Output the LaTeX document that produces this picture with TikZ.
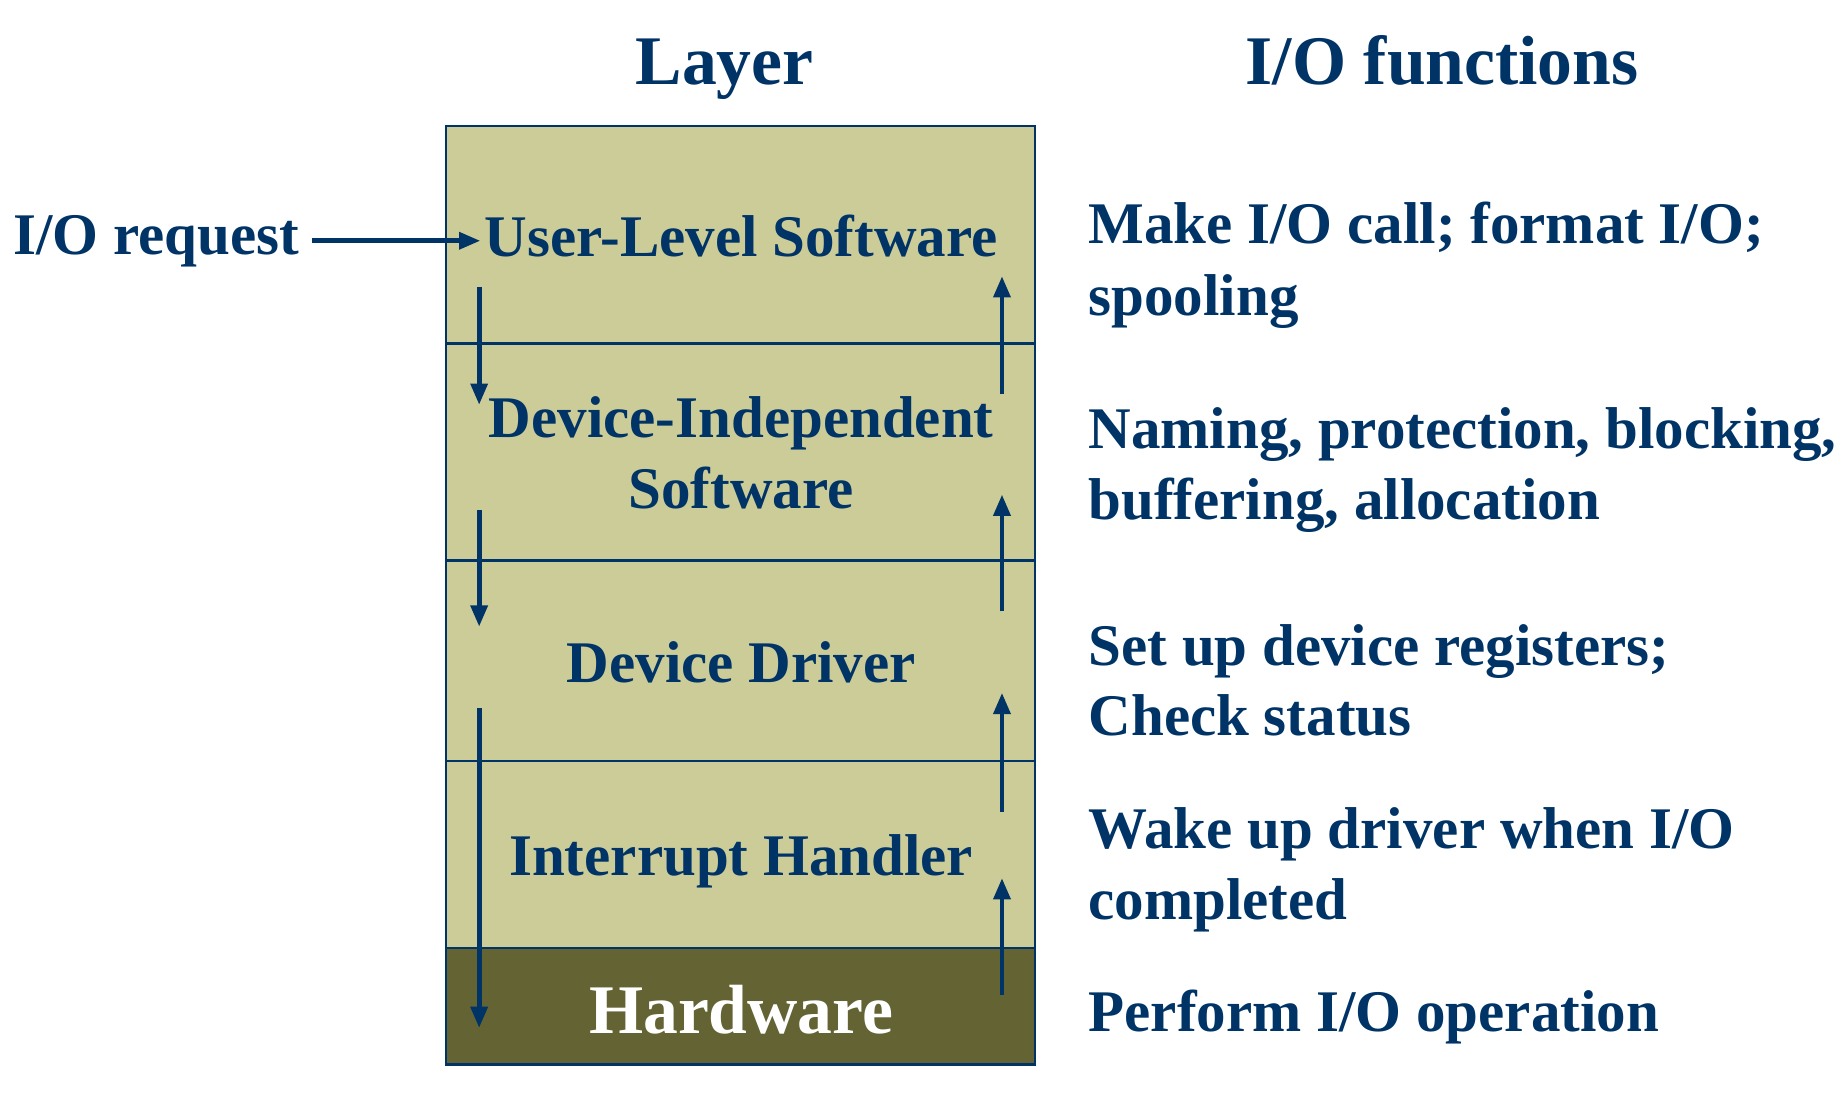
\documentclass[tikz,border=0pt]{standalone}
\usepackage{fontspec}
\setmainfont{Liberation Serif}
\usetikzlibrary{arrows.meta}
\definecolor{navy}{HTML}{003366}
\definecolor{layerfill}{HTML}{CCCC99}
\definecolor{hwfill}{HTML}{636333}
\begin{document}
\begin{tikzpicture}[x=0.5pt,y=-0.5pt,
  txt/.style={font=\bfseries\fontsize{25}{30}\selectfont, text=navy, inner sep=0pt},
  ttl/.style={font=\bfseries\fontsize{29.5}{35}\selectfont, text=navy, inner sep=0pt},
  layerbox/.style={draw=navy, line width=1pt, fill=layerfill},
  flow/.style={draw=navy, line width=2pt, -{Triangle[length=9pt,width=7pt]}}]
\useasboundingbox (0,0) rectangle (1565,939);
% layers
\path[layerbox] (378,107) rectangle (877,803);
\path[layerbox, fill=hwfill] (378,803) rectangle (877,902);
\draw[navy, line width=1pt] (378,291) -- (877,291);
\draw[navy, line width=1pt] (378,475) -- (877,475);
\draw[navy, line width=1pt] (378,645) -- (877,645);
% titles
\node[ttl, anchor=base] (tlayer) at (614,72) {Layer};
\node[ttl, anchor=base] (tfunc) at (1222,72) {I/O functions};
% layer labels
\node[txt, anchor=base west] (req) at (11,216) {I/O request};
\node[txt, anchor=base] (uls) at (628,217) {User-Level Software};
\node[txt, anchor=base] (dis1) at (628,371) {Device-Independent};
\node[txt, anchor=base] (dis2) at (628,431) {Software};
\node[txt, anchor=base] (dd) at (628,578) {Device Driver};
\node[txt, anchor=base] (ih) at (628,742) {Interrupt Handler};
\node[ttl, anchor=base, text=white] (hw) at (628,876) {Hardware};
% functions
\node[txt, anchor=base west] (f1a) at (922,206) {Make I/O call; format I/O;};
\node[txt, anchor=base west] (f1b) at (922,267) {spooling};
\node[txt, anchor=base west] (f2a) at (922,380) {Naming, protection, blocking,};
\node[txt, anchor=base west] (f2b) at (922,440) {buffering, allocation};
\node[txt, anchor=base west] (f3a) at (922,564) {Set up device registers;};
\node[txt, anchor=base west] (f3b) at (922,623) {Check status};
\node[txt, anchor=base west] (f4a) at (922,719) {Wake up driver when I/O};
\node[txt, anchor=base west] (f4b) at (922,779) {completed};
\node[txt, anchor=base west] (f5) at (922,874) {Perform I/O operation};
% arrow endpoints
\coordinate (rq0) at (264,204);
\coordinate (rq1) at (407,204);
\coordinate (d1s) at (406,243); \coordinate (d1e) at (406,343);
\coordinate (d2s) at (406,432); \coordinate (d2e) at (406,531);
\coordinate (d3s) at (406,600); \coordinate (d3e) at (406,871);
\coordinate (u1s) at (849,334); \coordinate (u1e) at (849,234);
\coordinate (u2s) at (849,518); \coordinate (u2e) at (849,419);
\coordinate (u3s) at (849,688); \coordinate (u3e) at (849,587);
\coordinate (u4s) at (849,843); \coordinate (u4e) at (849,744);
\draw[flow] (rq0) -- (rq1);
\draw[flow] (d1s) -- (d1e);
\draw[flow] (d2s) -- (d2e);
\draw[flow] (d3s) -- (d3e);
\draw[flow] (u1s) -- (u1e);
\draw[flow] (u2s) -- (u2e);
\draw[flow] (u3s) -- (u3e);
\draw[flow] (u4s) -- (u4e);
\end{tikzpicture}
\end{document}
